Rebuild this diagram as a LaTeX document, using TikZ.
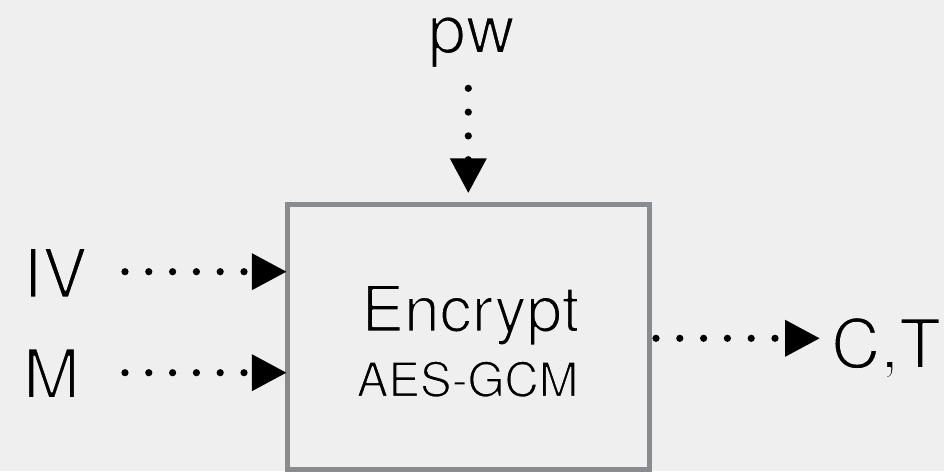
\documentclass[tikz,border=0pt]{standalone}
\usepackage{fontspec}
\setmainfont{TeX Gyre Heros}
\usetikzlibrary{arrows.meta}
\definecolor{bg}{HTML}{EFEFEF}
\definecolor{frame}{HTML}{888B8F}
% lighter glyphs: fill, then stroke the outline in the background grey
\newcommand\lighttext[2]{\special{pdf:literal direct 2 Tr 1 j #1 w 0.937 0.937 0.937 RG}#2\special{pdf:literal direct 0 Tr 0 j 0 0 0 RG}}
\tikzset{
  flow/.style={line width=7.2pt, line cap=round, dash pattern=on 0pt off 23.8pt,
    -{Triangle[length=35pt,width=35pt]}},
  biglabel/.style={anchor=base, inner sep=0pt, font=\fontsize{68}{68}\selectfont},
}
\begin{document}
\begin{tikzpicture}[x=1pt,y=-1pt]
  \fill[bg] (0,0) rectangle (944,471);
  \useasboundingbox (0,0) rectangle (944,471);
  % cipher block
  \node[draw=frame, line width=4.5pt, minimum width=362pt, minimum height=265pt,
        inner sep=0pt] (box) at (468.5,337) {};
  \node[anchor=base, inner sep=0pt, font=\fontsize{64}{64}\selectfont] (enc) at (470.5,331.5) {\lighttext{1.8}{Encrypt}};
  \node[anchor=base, inner sep=0pt, font=\fontsize{47.5}{47.5}\selectfont] (alg) at (467.5,396.5) {\lighttext{1.3}{AES-GCM}};
  % inputs and output
  \node[biglabel] (pw) at (471.5,53) {\lighttext{1.9}{pw}};
  \node[biglabel, anchor=base west] (iv) at (23,297.5) {\lighttext{1.9}{IV}};
  \node[biglabel, anchor=base west] (m) at (23,398) {\lighttext{1.9}{M}};
  \node[biglabel, anchor=base west] (ct) at (831,368) {\lighttext{1.9}{C,T}};
  \coordinate (pwstart) at (468.3,88.3);
  \coordinate (ivstart) at (125,271.7);
  \coordinate (mstart) at (125,372.7);
  \coordinate (ctstart) at (656,338.3);
  \coordinate (ctend) at (820,338.3);
  \draw[flow, shorten >=9pt] (pwstart) -- (pwstart |- box.north);
  \draw[flow, shorten >=-1.5pt] (ivstart) -- (ivstart -| box.west);
  \draw[flow, shorten >=-1.5pt] (mstart) -- (mstart -| box.west);
  \draw[flow] (ctstart) -- (ctend);
\end{tikzpicture}
\end{document}
